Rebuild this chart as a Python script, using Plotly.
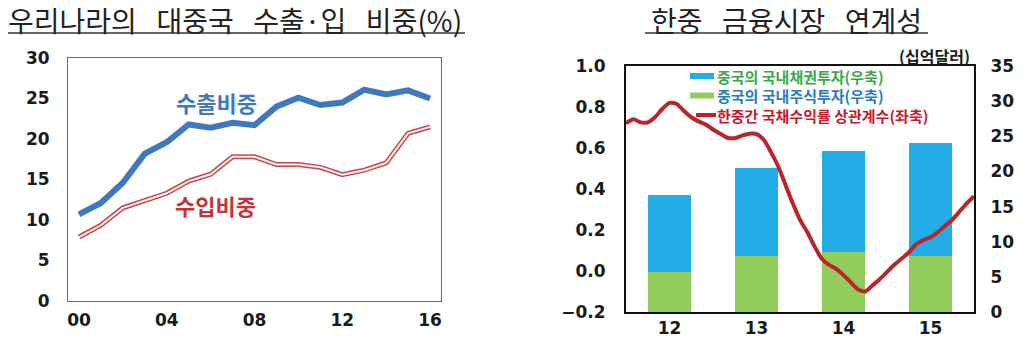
import plotly.graph_objects as go

# ---------------- data: left chart ----------------
years = [2000, 2001, 2002, 2003, 2004, 2005, 2006, 2007, 2008, 2009, 2010,
         2011, 2012, 2013, 2014, 2015, 2016]
export_share = [10.7, 12.1, 14.6, 18.2, 19.6, 21.8, 21.4, 22.0, 21.7, 24.0, 25.1,
                24.2, 24.5, 26.1, 25.5, 26.0, 25.0]
import_share = [7.9, 9.35, 11.5, 12.4, 13.3, 14.8, 15.65, 17.8, 17.8, 16.85, 16.85,
                16.5, 15.6, 16.15, 17.05, 20.7, 21.5]
left_tickvals = [2000, 2004, 2008, 2012, 2016]
left_ticktext = ["00", "04", "08", "12", "16"]

# ---------------- data: right chart ----------------
bar_years = [2012, 2013, 2014, 2015]
bar_ticktext = ["12", "13", "14", "15"]
stock_inv = [5.7, 7.9, 8.6, 8.0]     # 중국의 국내주식투자 (right axis)
bond_inv = [11.0, 12.6, 14.3, 16.1]  # 중국의 국내채권투자 (right axis)
# monthly correlation, Jan 2012 .. Jan 2016 (left axis)
corr = [0.72, 0.74, 0.725, 0.725, 0.75, 0.79, 0.82, 0.815, 0.78, 0.75, 0.73, 0.715,
        0.69, 0.67, 0.65, 0.648, 0.66, 0.67, 0.668, 0.64, 0.58, 0.51, 0.42, 0.33,
        0.25, 0.19, 0.12, 0.06, 0.03, 0.01, -0.02, -0.055, -0.09, -0.10, -0.07, -0.04,
        -0.005, 0.03, 0.06, 0.09, 0.13, 0.15, 0.165, 0.19, 0.22, 0.25, 0.29, 0.33,
        0.365]
corr_x = [2011.5 + m / 12 for m in range(len(corr))]

legend_labels = ["중국의 국내채권투자(우축)", "중국의 국내주식투자(우축)",
                 "한중간 국채수익률 상관계수(좌축)"]

W, H = 1024, 339
def px_x(p): return p / W
def px_y(p): return (H - p) / H

TICKFONT = dict(family="DejaVu Sans", size=17, color="#1a1a1a", weight="bold")
KFONT = "Noto Sans CJK KR"
SP = "\u2002\u2009"

C_EXP, C_IMP = "#3f79bd", "#c4474c"
C_STOCK, C_BOND, C_CORR = "#92cd5b", "#22ade6", "#b8262c"

fig = go.Figure()

# left chart lines
fig.add_trace(go.Scatter(x=years, y=export_share, mode="lines",
                         line=dict(color=C_EXP, width=6),
                         xaxis="x", yaxis="y", showlegend=False))
fig.add_trace(go.Scatter(x=years, y=import_share, mode="lines",
                         line=dict(color=C_IMP, width=5),
                         xaxis="x", yaxis="y", showlegend=False))
fig.add_trace(go.Scatter(x=years, y=import_share, mode="lines",
                         line=dict(color="#fdf0f0", width=2),
                         xaxis="x", yaxis="y", showlegend=False))

# right chart bars (right axis) + line (left axis, drawn on top)
fig.add_trace(go.Bar(x=bar_years, y=stock_inv, width=0.49, marker_color=C_STOCK,
                     marker_line_width=0, xaxis="x2", yaxis="y2", showlegend=False,
                     name=legend_labels[1]))
fig.add_trace(go.Bar(x=bar_years, y=bond_inv, width=0.49, marker_color=C_BOND,
                     marker_line_width=0, xaxis="x2", yaxis="y2", showlegend=False,
                     name=legend_labels[0]))
fig.add_trace(go.Scatter(x=corr_x, y=corr, mode="lines",
                         line=dict(color=C_CORR, width=4, shape="spline", smoothing=0.6),
                         xaxis="x2", yaxis="y3", showlegend=False,
                         name=legend_labels[2]))

fig.update_layout(
    width=W, height=H,
    margin=dict(l=0, r=0, t=0, b=0, autoexpand=False),
    paper_bgcolor="white", plot_bgcolor="white",
    barmode="stack",
    showlegend=False,
    xaxis=dict(domain=[px_x(68), px_x(441)], range=[1999.5, 2016.5], automargin=False,
               tickvals=left_tickvals, ticktext=left_ticktext, tickfont=TICKFONT,
               showgrid=False, zeroline=False, showline=True, mirror=True,
               linecolor="#6a6a6a", linewidth=1, ticks="outside", ticklen=4,
               tickcolor="rgba(0,0,0,0)"),
    yaxis=dict(domain=[px_y(301), px_y(58)], range=[0, 30], dtick=5, automargin=False,
               tickfont=TICKFONT, showgrid=False, zeroline=False, showline=True,
               mirror=True, linecolor="#6a6a6a", linewidth=1,
               ticks="outside", ticklen=14, tickcolor="rgba(0,0,0,0)"),
    xaxis2=dict(domain=[px_x(626), px_x(974)], range=[2011.5, 2015.5], automargin=False,
                tickvals=bar_years, ticktext=bar_ticktext, tickfont=TICKFONT,
                showgrid=False, zeroline=False, showline=True, mirror=True,
                linecolor="#111", linewidth=2, anchor="y2", ticks=""),
    yaxis2=dict(domain=[px_y(312), px_y(66)], range=[0, 35], dtick=5, side="right",
                automargin=False, tickfont=TICKFONT, showgrid=False, zeroline=False,
                showline=True, mirror=True, linecolor="#111", linewidth=2,
                anchor="x2", ticks="outside", ticklen=11, tickcolor="rgba(0,0,0,0)"),
    yaxis3=dict(overlaying="y2", side="left", range=[-0.2, 1.0], dtick=0.2,
                tickformat=".1f", automargin=False, tickfont=TICKFONT,
                showgrid=False, zeroline=False, anchor="x2",
                ticks="outside", ticklen=16, tickcolor="rgba(0,0,0,0)"),
)

annotations = [
    dict(text=f"우리나라의{SP}대중국{SP}수출·입{SP}비중(%)", x=px_x(6), y=px_y(20),
         xref="paper", yref="paper", xanchor="left", yanchor="middle", showarrow=False,
         font=dict(family=KFONT, size=28, color="#222")),
    dict(text=f"한중{SP}금융시장{SP}연계성", x=px_x(786), y=px_y(20), xref="paper",
         yref="paper", xanchor="center", yanchor="middle", showarrow=False,
         font=dict(family=KFONT, size=28, color="#222")),
    dict(text="수출비중", x=2006.25, y=24.6, xref="x", yref="y", showarrow=False,
         font=dict(family=KFONT, size=22, color=C_EXP, weight="bold")),
    dict(text="수입비중", x=2006.2, y=11.85, xref="x", yref="y", showarrow=False,
         font=dict(family=KFONT, size=22, color="#c4343b", weight="bold")),
    dict(text="(십억달러)", x=px_x(972), y=px_y(56), xref="paper", yref="paper",
         xanchor="right", yanchor="middle", showarrow=False,
         font=dict(family=KFONT, size=16, color="#1a1a1a", weight="bold")),
]

# manual legend (text colours as in the original)
legend_text_colors = ["#3aa84a", "#2a7ac0", "#c8182c"]
legend_rows = [76.0, 95.5, 115.0]
for lab, col, ry in zip(legend_labels, legend_text_colors, legend_rows):
    annotations.append(dict(text=lab, x=px_x(716), y=px_y(ry), xref="paper",
                            yref="paper", xanchor="left", yanchor="middle",
                            showarrow=False, borderpad=0,
                            font=dict(family=KFONT, size=15, color=col, weight="bold")))
fig.update_layout(annotations=annotations)

shapes = [
    dict(type="line", xref="paper", yref="paper", x0=px_x(8), x1=px_x(465),
         y0=px_y(33), y1=px_y(33), line=dict(color="#333", width=1.5)),
    dict(type="line", xref="paper", yref="paper", x0=px_x(645), x1=px_x(928),
         y0=px_y(33), y1=px_y(33), line=dict(color="#333", width=1.5)),
    # legend keys
    dict(type="rect", xref="paper", yref="paper", x0=px_x(690), x1=px_x(714),
         y0=px_y(legend_rows[0] + 3), y1=px_y(legend_rows[0] - 3),
         fillcolor=C_BOND, line_width=0),
    dict(type="rect", xref="paper", yref="paper", x0=px_x(690), x1=px_x(714),
         y0=px_y(legend_rows[1] + 3), y1=px_y(legend_rows[1] - 3),
         fillcolor=C_STOCK, line_width=0),
    dict(type="line", xref="paper", yref="paper", x0=px_x(696), x1=px_x(716),
         y0=px_y(legend_rows[2]), y1=px_y(legend_rows[2]),
         line=dict(color=C_CORR, width=4)),
]
fig.update_layout(shapes=shapes)

fig.write_html("out.html")
